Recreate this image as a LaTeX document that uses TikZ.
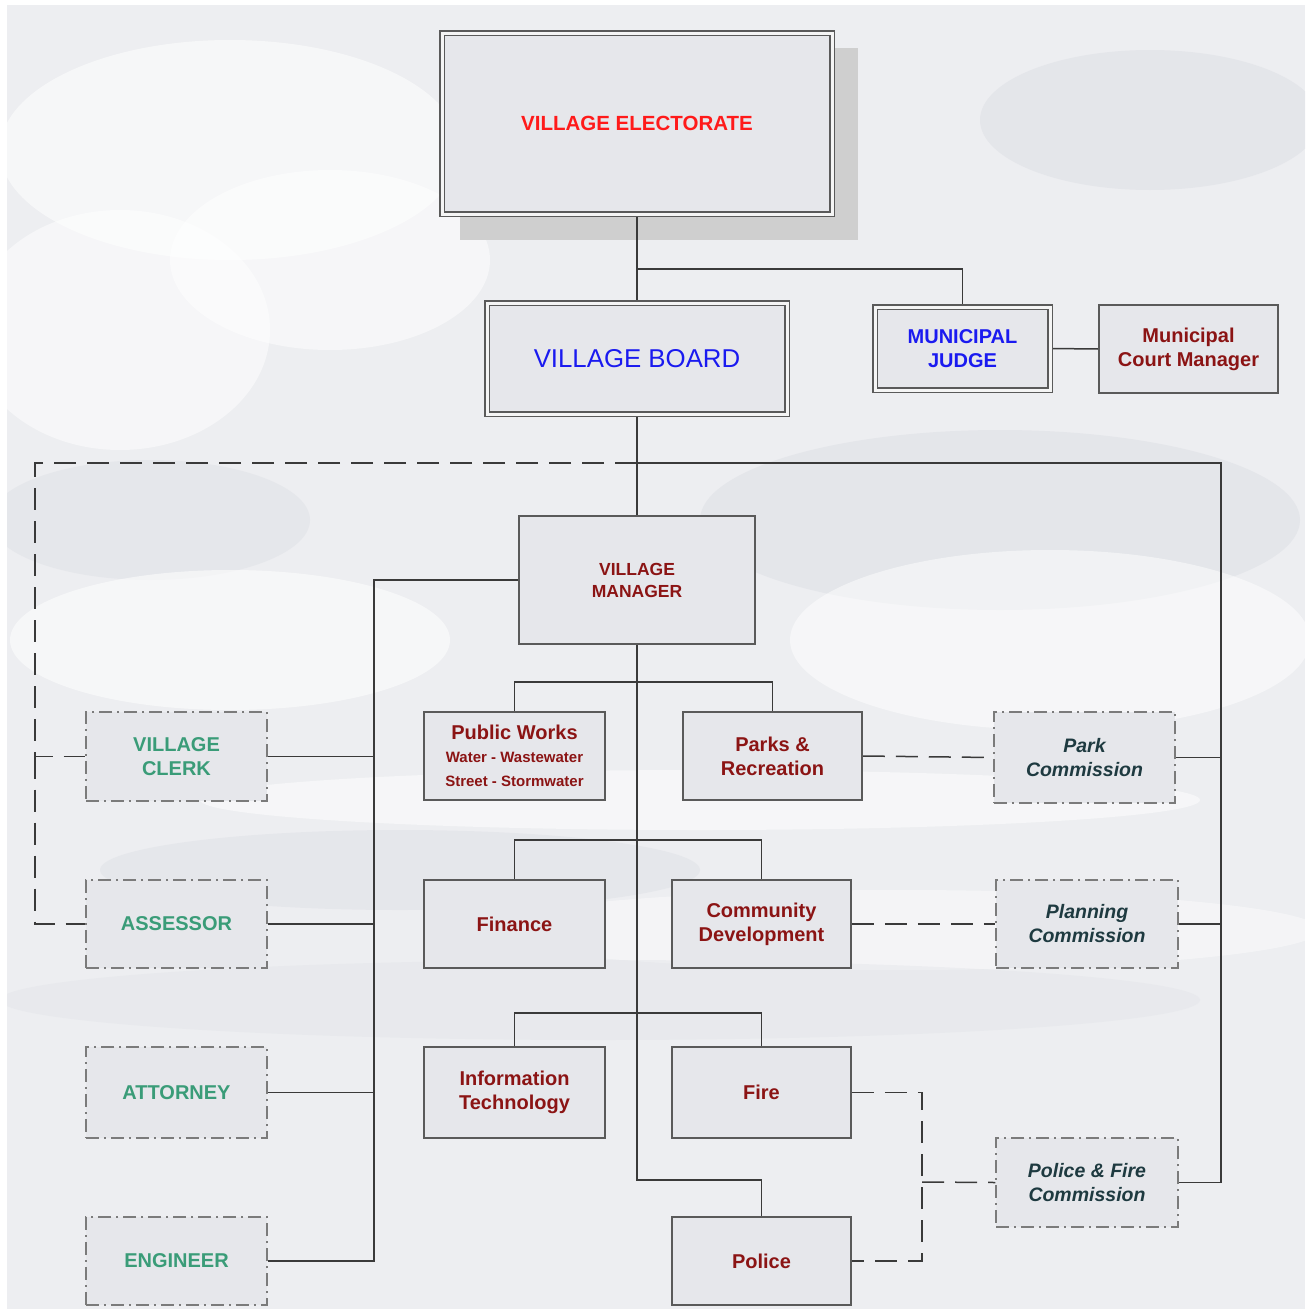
\documentclass[tikz,border=0pt]{standalone}
\usepackage{fontspec}
\setmainfont{Liberation Sans}
\usetikzlibrary{calc}
\definecolor{bgbase}{HTML}{EDEEF1}
\definecolor{bgdark}{HTML}{DFE1E6}
\definecolor{boxfill}{HTML}{E6E7EB}
\definecolor{boxline}{HTML}{5A5A5A}
\definecolor{conline}{HTML}{3A3A3A}
\definecolor{shadowc}{HTML}{CFCFCF}
\definecolor{tred}{HTML}{FF1A1A}
\definecolor{tblue}{HTML}{1A1AF0}
\definecolor{tmaroon}{HTML}{8B1414}
\definecolor{tgreen}{HTML}{3A9C78}
\definecolor{tslate}{HTML}{1E3A40}
\pgfdeclarelayer{bg}
\pgfdeclarelayer{lines}
\pgfsetlayers{bg,lines,main}
\tikzset{
  box/.style={rectangle, draw=boxline, fill=boxfill, line width=1.5pt, inner sep=0pt, align=center},
  dbox/.style={box, double=white!92!gray, double distance=3pt, line width=1.4pt},
  dashbox/.style={box, draw=boxline!80, dash pattern=on 13pt off 5pt on 2pt off 5pt},
  conn/.style={draw=conline, line width=1.5pt},
  dconn/.style={draw=conline, line width=1.5pt, dash pattern=on 22pt off 11pt},
  ftitle/.style={font=\fontsize{20}{24}\selectfont\bfseries},
  fcomm/.style={font=\fontsize{19.5}{24}\selectfont\bfseries\itshape},
}
\begin{document}
\begin{tikzpicture}[x=1pt,y=-1pt]
\useasboundingbox (0,0) rectangle (1309,1309);
\begin{pgfonlayer}{bg}
  \fill[white] (0,0) rectangle (1309,1309);
  \fill[bgbase] (7,5) rectangle (1305,1309);
  \begin{scope}
    \clip (7,5) rectangle (1305,1309);
    \fill[white, opacity=0.55] (230,150) ellipse (230 and 110);
    \fill[white, opacity=0.5] (120,330) ellipse (150 and 120);
    \fill[white, opacity=0.5] (330,260) ellipse (160 and 90);
    \fill[bgdark, opacity=0.6] (1150,120) ellipse (170 and 70);
    \fill[bgdark, opacity=0.6] (1000,520) ellipse (300 and 90);
    \fill[white, opacity=0.5] (1050,640) ellipse (260 and 90);
    \fill[bgdark, opacity=0.5] (150,520) ellipse (160 and 60);
    \fill[white, opacity=0.55] (230,640) ellipse (220 and 70);
    \fill[white, opacity=0.5] (700,800) ellipse (500 and 30);
    \fill[bgdark, opacity=0.5] (400,870) ellipse (300 and 40);
    \fill[white, opacity=0.4] (900,930) ellipse (420 and 40);
    \fill[bgdark, opacity=0.35] (600,1000) ellipse (600 and 40);
  \end{scope}
  \fill[shadowc] (460,48) rectangle (858,240);
\end{pgfonlayer}

% nodes
\node[dbox, minimum width=390, minimum height=181, text=tred,
      font=\fontsize{20.5}{24}\selectfont\bfseries] (elect) at (637,123.5) {VILLAGE ELECTORATE};
\node[dbox, minimum width=300, minimum height=111, text=tblue,
      font=\fontsize{25.8}{30}\selectfont] (board) at (637,358.5) {VILLAGE BOARD};
\node[dbox, minimum width=175, minimum height=83, text=tblue, ftitle] (judge) at (962.5,348.5) {MUNICIPAL\\JUDGE};
\node[box, minimum width=179, minimum height=88, text=tmaroon, ftitle] (court) at (1188.5,349) {Municipal\\Court Manager};
\node[box, minimum width=236, minimum height=128, text=tmaroon,
      font=\fontsize{17.5}{22}\selectfont\bfseries] (mgr) at (637,580) {VILLAGE\\MANAGER};

\node[box, minimum width=181, minimum height=88, text=tmaroon, ftitle] (pw) at (514.5,756)
  {Public Works\\[-1pt]{\fontsize{15}{21}\selectfont Water - Wastewater}\\{\fontsize{15}{21}\selectfont Street - Stormwater}};
\node[box, minimum width=179, minimum height=88, text=tmaroon, ftitle] (parks) at (772.5,756) {Parks \&\\Recreation};
\node[dashbox, minimum width=181, minimum height=91, text=tslate, fcomm] (parkc) at (1084.5,757.5) {Park\\Commission};
\node[dashbox, minimum width=181, minimum height=89, text=tgreen, ftitle] (clerk) at (176.5,756.5) {VILLAGE\\CLERK};

\node[dashbox, minimum width=181, minimum height=88, text=tgreen, ftitle] (assessor) at (176.5,924) {ASSESSOR};
\node[box, minimum width=181, minimum height=88, text=tmaroon, ftitle] (finance) at (514.5,924) {Finance};
\node[box, minimum width=179, minimum height=88, text=tmaroon, ftitle] (cd) at (761.5,924) {Community\\Development};
\node[dashbox, minimum width=182, minimum height=88, text=tslate, fcomm] (planc) at (1087,924) {Planning\\Commission};

\node[dashbox, minimum width=181, minimum height=91, text=tgreen, ftitle] (attorney) at (176.5,1092.5) {ATTORNEY};
\node[box, minimum width=181, minimum height=91, text=tmaroon, ftitle] (it) at (514.5,1092.5) {Information\\Technology};
\node[box, minimum width=179, minimum height=91, text=tmaroon, ftitle] (fire) at (761.5,1092.5) {Fire};
\node[dashbox, minimum width=182, minimum height=89, text=tslate, fcomm] (pfc) at (1087,1182.5) {Police \& Fire\\Commission};

\node[dashbox, minimum width=181, minimum height=88, text=tgreen, ftitle] (engineer) at (176.5,1261) {ENGINEER};
\node[box, minimum width=179, minimum height=88, text=tmaroon, ftitle] (police) at (761.5,1261) {Police};

% coordinates
\coordinate (j1) at (637,269);
\coordinate (b1) at (637,463);
\coordinate (rbus) at (1221,463);
\coordinate (lbus) at (35,463);
\coordinate (mbus) at (374,580);
\coordinate (r1) at (637,682);
\coordinate (r2) at (637,840);
\coordinate (r3) at (637,1013);
\coordinate (m2) at (637,1180);
\coordinate (fb) at (922,1182);

\begin{pgfonlayer}{lines}
  \draw[conn] (elect.south) -- (board.north);
  \draw[conn] (j1) -| (judge.north);
  \draw[conn] (judge.east) -- (court.west);
  \draw[conn] (board.south) -- (mgr.north);
  \draw[conn] (b1) -- (rbus) -- (rbus |- pfc.east) -- (pfc.east);
  \draw[conn] (parkc.east) -- (parkc.east -| rbus);
  \draw[conn] (planc.east) -- (planc.east -| rbus);
  \draw[dconn] (b1) -- (lbus) -- (lbus |- clerk.west) -- (clerk.west);
  \draw[dconn] (lbus |- clerk.west) -- (lbus |- assessor.west) -- (assessor.west);
  \draw[conn] (mgr.west) -- (mbus) -- (mbus |- engineer.east) -- (engineer.east);
  \draw[conn] (clerk.east) -- (clerk.east -| mbus);
  \draw[conn] (assessor.east) -- (assessor.east -| mbus);
  \draw[conn] (attorney.east) -- (attorney.east -| mbus);
  \draw[conn] (mgr.south) -- (m2) -| (police.north);
  \draw[conn] (pw.north) |- (r1) -| (parks.north);
  \draw[conn] (finance.north) |- (r2) -| (cd.north);
  \draw[conn] (it.north) |- (r3) -| (fire.north);
  \draw[dconn] (parks.east) -- (parkc.west);
  \draw[dconn] (cd.east) -- (planc.west);
  \draw[dconn] (fire.east) -| (fb) |- (police.east);
  \draw[dconn] (fb) -- (pfc.west);
\end{pgfonlayer}
\end{tikzpicture}
\end{document}
